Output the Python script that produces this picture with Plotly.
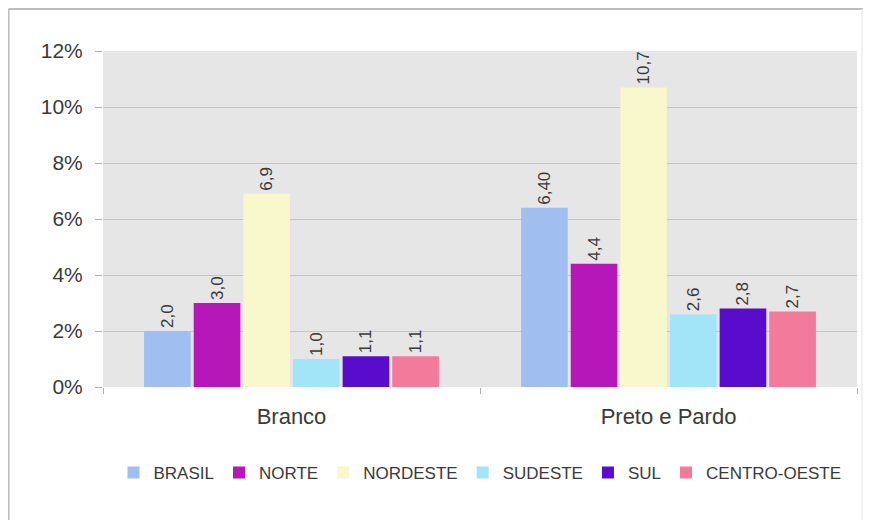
import plotly.graph_objects as go

categories = ["Branco", "Preto e Pardo"]
series_names = ["BRASIL", "NORTE", "NORDESTE", "SUDESTE", "SUL", "CENTRO-OESTE"]
brasil = [2.0, 6.4]
norte = [3.0, 4.4]
nordeste = [6.9, 10.7]
sudeste = [1.0, 2.6]
sul = [1.1, 2.8]
centro_oeste = [1.1, 2.7]
brasil_labels = ["2,0", "6,40"]
norte_labels = ["3,0", "4,4"]
nordeste_labels = ["6,9", "10,7"]
sudeste_labels = ["1,0", "2,6"]
sul_labels = ["1,1", "2,8"]
centro_oeste_labels = ["1,1", "2,7"]
y_tickvals = [0, 2, 4, 6, 8, 10, 12]
y_ticktext = ["0%", "2%", "4%", "6%", "8%", "10%", "12%"]

values = [brasil, norte, nordeste, sudeste, sul, centro_oeste]
labels = [brasil_labels, norte_labels, nordeste_labels, sudeste_labels, sul_labels, centro_oeste_labels]
colors = ["#a0bef0", "#b517b8", "#f8f8cc", "#a2e4f8", "#5a0ccc", "#f27a9a"]

FONT = "Liberation Sans, Arial, sans-serif"

fig = go.Figure()
for name, vals, lab, col in zip(series_names, values, labels, colors):
    fig.add_trace(go.Bar(
        name=name, x=categories, y=vals, text=lab,
        textposition="outside", textangle=-90, constraintext="none",
        cliponaxis=False,
        textfont=dict(family=FONT, size=17, color="#3a3a3a"),
        marker=dict(color=col, line=dict(color=col, width=0)),
    ))

fig.update_layout(
    width=863, height=512,
    margin=dict(l=95, r=14, t=43, b=133),
    paper_bgcolor="white",
    plot_bgcolor="#e6e6e6",
    barmode="group",
    bargap=0.21,
    bargroupgap=0.06,
    font=dict(family=FONT, color="#333333"),
    showlegend=True,
    legend=dict(orientation="h", x=0.5, xanchor="center", y=-0.256, yanchor="middle",
                font=dict(size=17, color="#3a3a3a"), itemwidth=30,
                traceorder="normal"),
    shapes=[
        dict(type="line", xref="paper", yref="paper", x0=-0.1253, x1=1.02, y0=1.125, y1=1.125,
             line=dict(color="#bdbdbd", width=2)),
        dict(type="line", xref="paper", yref="paper", x0=-0.1253, x1=-0.1253, y0=-0.5, y1=1.125,
             line=dict(color="#bdbdbd", width=2)),
        dict(type="line", xref="paper", yref="paper", x0=1.0066, x1=1.0066, y0=-0.5, y1=1.125,
             line=dict(color="#ededed", width=1.5)),
    ],
)
fig.update_xaxes(
    type="category", showgrid=False, showline=True, linecolor="#ffffff", linewidth=1,
    ticks="outside", tickson="boundaries", ticklen=6, tickcolor="#b0b0b0",
    tickfont=dict(size=22, color="#3a3a3a"), ticklabelstandoff=10,
)
fig.update_yaxes(
    range=[0, 12], tickvals=y_tickvals, ticktext=y_ticktext,
    showgrid=True, gridcolor="#c4c4c4", gridwidth=1,
    zeroline=False, showline=False,
    ticks="outside", ticklen=7, tickcolor="#b0b0b0",
    tickfont=dict(size=21, color="#3a3a3a"), ticklabelstandoff=8,
)

fig.write_html("out.html")
